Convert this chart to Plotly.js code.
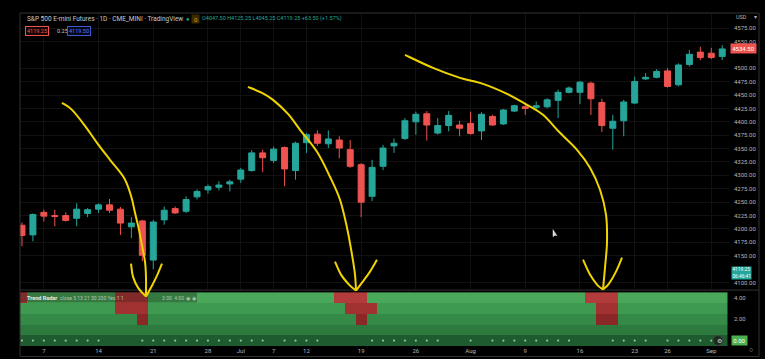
<!DOCTYPE html>
<html>
<head>
<meta charset="utf-8">
<script src="https://cdn.plot.ly/plotly-3.0.1.min.js"></script>
<style>
html,body{margin:0;padding:0;background:#000;}
#chart{width:765px;height:359px;}
</style>
</head>
<body>
<div id="chart"></div>
<script>
// ---------------- DATA ----------------
const dates = [
 '2021-06-03','2021-06-04','2021-06-07','2021-06-08','2021-06-09','2021-06-10','2021-06-11',
 '2021-06-14','2021-06-15','2021-06-16','2021-06-17','2021-06-18',
 '2021-06-21','2021-06-22','2021-06-23','2021-06-24','2021-06-25',
 '2021-06-28','2021-06-29','2021-06-30','2021-07-01','2021-07-02',
 '2021-07-06','2021-07-07','2021-07-08','2021-07-09',
 '2021-07-12','2021-07-13','2021-07-14','2021-07-15','2021-07-16',
 '2021-07-19','2021-07-20','2021-07-21','2021-07-22','2021-07-23',
 '2021-07-26','2021-07-27','2021-07-28','2021-07-29','2021-07-30',
 '2021-08-02','2021-08-03','2021-08-04','2021-08-05','2021-08-06',
 '2021-08-09','2021-08-10','2021-08-11','2021-08-12','2021-08-13',
 '2021-08-16','2021-08-17','2021-08-18','2021-08-19','2021-08-20',
 '2021-08-23','2021-08-24','2021-08-25','2021-08-26','2021-08-27',
 '2021-08-30','2021-08-31','2021-09-01','2021-09-02'
];
const open = [4207,4189,4231,4225,4225,4220,4229,4237,4245,4237,4204,4215,4142,4217,4238,4233,4260,4273,4278,4284,
 4293,4309,4342,4328,4352,4309,4361,4377,4359,4366,4348,4320,4261,4317,4355,4369,4400,4415,4379,4393,
 4394,4397,4383,4410,4396,4420,4428,4427,4428,4440,4455,4455,4472,4436,4388,4402,4435,4480,4483,4495,
 4469,4507,4530,4528,4522];
const high = [4212,4229,4236,4236,4231,4248,4239,4248,4256,4241,4222,4217,4217,4242,4242,4261,4274,4283,4289,4292,
 4314,4347,4348,4354,4354,4363,4379,4384,4384,4373,4366,4323,4329,4357,4369,4407,4419,4420,4407,4420,
 4402,4419,4418,4413,4424,4432,4435,4438,4444,4460,4466,4476,4475,4443,4413,4441,4484,4491,4498,4500,
 4509,4534,4540,4538,4543];
const low = [4168,4177,4214,4205,4214,4205,4222,4230,4230,4189,4183,4140,4125,4208,4228,4230,4255,4266,4272,4270,
 4286,4307,4306,4323,4280,4292,4342,4355,4351,4332,4314,4222,4252,4310,4342,4366,4376,4365,4376,4382,
 4373,4376,4366,4393,4394,4418,4413,4422,4425,4407,4453,4433,4413,4381,4348,4373,4433,4478,4481,4464,
 4466,4503,4515,4517,4515];
const close = [4188,4227,4224,4223.5,4216,4237,4236,4245,4235,4211,4211,4151,4213,4235,4230,4255,4270,4279,4282,4288,
 4310,4342,4333,4349,4312,4360,4376,4360,4368,4351,4317,4250,4315,4351,4360,4402,4414,4394,4393,4412,
 4388,4378,4414,4394,4422,4430,4425,4430,4441,4455,4463,4474,4443,4393,4401,4437,4475,4483,4494,4466,
 4506,4526,4520,4520,4536];

// Trend Radar rows (MA lengths 5,13,21,50,200): bar indices where the row is bearish (red)
const ma5Bear   = [0,9,10,11,29,30,31,52,53,54];
const ma13Bear  = [9,10,11,30,31,32,53,54];
const ma21Bear  = [11,31,53,54];
const ma50Bear  = [];
const ma200Bear = [];
// bottom-row dot markers (bar indices)
const dotIdx = [0,1,2,3,4,5,6,7,11,12,13,14,15,16,17,18,19,20,21,22,24,25,26,27,
 32,33,34,35,36,37,38,41,43,44,45,46,47,48,49,50,54,55,56,57,59,60,61,62,63];

const tickDates = ['2021-06-07','2021-06-14','2021-06-21','2021-06-28','2021-07-01','2021-07-07','2021-07-12',
 '2021-07-19','2021-07-26','2021-08-02','2021-08-09','2021-08-16','2021-08-23','2021-08-26','2021-09-01'];
const tickLabels = ['7','14','21','28','Jul','7','12','19','26','Aug','9','16','23','26','Sep'];
// visible price-scale labels (4125 and 4525 are covered by the price tags in the reference)
const priceTicks=[4100,4150,4175,4200,4225,4250,4275,4300,4325,4350,4375,4400,4425,4450,4475,4500,4550,4575];

// ---------------- LAYOUT HELPERS ----------------
const W=765,H=359,ML=20,MR=36,MT=13,MB=12.5;
const PW=W-ML-MR, PH=H-MT-MB;
function fx(x){return (x-ML)/PW;}
function fy(y){return 1-(y-MT)/PH;}
function smoothPath(pts){
  const p=pts.map(q=>[fx(q[0]),fy(q[1])]);
  let d='M'+p[0][0]+','+p[0][1];
  for(let i=0;i<p.length-1;i++){
    const p0=p[Math.max(0,i-1)],p1=p[i],p2=p[i+1],p3=p[Math.min(p.length-1,i+2)];
    const c1=[p1[0]+(p2[0]-p0[0])/6,p1[1]+(p2[1]-p0[1])/6];
    const c2=[p2[0]-(p3[0]-p1[0])/6,p2[1]-(p3[1]-p1[1])/6];
    d+=' C'+c1[0]+','+c1[1]+' '+c2[0]+','+c2[1]+' '+p2[0]+','+p2[1];
  }
  return d;
}
const YEL='#f0d400';
function yline(pts){return {type:'path',xref:'paper',yref:'paper',path:smoothPath(pts),line:{color:YEL,width:2}};}
function hline(y,x0,x1,c){return {type:'line',xref:'paper',yref:'paper',x0:fx(x0),x1:fx(x1),y0:fy(y),y1:fy(y),line:{color:c||'#2f2f2f',width:1}};}
function vline(x,y0,y1,c){return {type:'line',xref:'paper',yref:'paper',x0:fx(x),x1:fx(x),y0:fy(y0),y1:fy(y1),line:{color:c||'#2f2f2f',width:1}};}
function txt(x,y,t,o){
  o=o||{};
  return Object.assign({xref:'paper',yref:'paper',x:fx(x),y:fy(y),text:t,showarrow:false,xanchor:'left',yanchor:'middle',
    font:{family:'Roboto, Liberation Sans, sans-serif',size:o.size||6,color:o.color||'#b2b5be'}},o.extra||{});
}

// ---------------- HEATMAP Z ----------------
const rows=[ma200Bear,ma50Bear,ma21Bear,ma13Bear,ma5Bear]; // y=0..4
const z=rows.map((bear,r)=>dates.map((d,i)=>bear.includes(i)?5+r:r));
const cols=['#1e5b2f','#2c7a3e','#358a47','#3f9a51','#4aa85b','#8a2626','#8a2626','#8c2727','#a23232','#b23b3b'];
const cscale=cols.map((c,k)=>[k/9,c]);

const traces=[
 {type:'candlestick',x:dates,open:open,high:high,low:low,close:close,xaxis:'x',yaxis:'y',
  increasing:{line:{color:'#26a69a',width:1},fillcolor:'#26a69a'},
  decreasing:{line:{color:'#ef5350',width:1},fillcolor:'#ef5350'},
  whiskerwidth:0,hoverinfo:'skip',showlegend:false},
 {type:'heatmap',x:dates,y:[0,1,2,3,4],z:z,xaxis:'x2',yaxis:'y2',colorscale:cscale,zmin:0,zmax:9,
  showscale:false,hoverinfo:'skip'},
 {type:'scatter',mode:'markers',x:dotIdx.map(i=>dates[i]),y:dotIdx.map(()=>0),xaxis:'x2',yaxis:'y2',
  marker:{size:2.2,color:'rgba(170,215,180,0.85)'},hoverinfo:'skip',showlegend:false}
];

const layout={
 width:W,height:H,margin:{l:ML,r:MR,t:MT,b:MB,pad:0},
 paper_bgcolor:'#000',plot_bgcolor:'#000',showlegend:false,
 font:{family:'Roboto, Liberation Sans, sans-serif',color:'#b2b5be',size:6},
 boxgap:0.22,
 xaxis:{type:'category',domain:[0,1],anchor:'y',range:[-0.18,64.62],rangeslider:{visible:false},
   tickvals:tickDates,ticktext:tickLabels,showticklabels:false,showgrid:true,gridcolor:'#111111',zeroline:false,
   showline:false,ticks:''},
 yaxis:{domain:[fy(289),1],range:[4088.8,4603],side:'right',tickvals:priceTicks,tickformat:'.2f',
   showgrid:true,gridcolor:'#111111',zeroline:false,ticks:'',showline:false,
   tickfont:{size:6,color:'#b2b5be'},ticklabelstandoff:4},
 xaxis2:{type:'category',domain:[0,1],anchor:'y2',matches:'x',tickvals:tickDates,ticktext:tickLabels,
   showgrid:false,zeroline:false,ticks:'',showline:false,tickfont:{size:6,color:'#b2b5be'},ticklabelstandoff:0},
 yaxis2:{domain:[0,fy(292.6)],range:[-0.5,4.5],side:'right',tickvals:[2,4],tickformat:'.2f',
   showgrid:false,zeroline:false,ticks:'',showline:false,tickfont:{size:6,color:'#b2b5be'},ticklabelstandoff:4},
 shapes:[
   hline(13,20,759,'#333'), vline(20,13,357,'#333'), vline(759,13,357,'#333'), hline(290.5,20,759,'#333'),
   hline(357,20,759,'#333'),
   {type:'rect',xref:'paper',yref:'paper',x0:fx(20),x1:fx(197),y0:fy(303),y1:fy(293),fillcolor:'rgba(0,0,0,0.28)',line:{width:0}},
   {type:'circle',xref:'paper',yref:'paper',x0:fx(713),x1:fx(723),y0:fy(346),y1:fy(336),fillcolor:'#1c2a20',line:{color:'#3a4a3e',width:1}},
   yline([[62,103],[72,110],[85,126],[97,143],[110,160],[124,178],[131,196],[135,213],[139,230],[142,246],[145,262],[146,278],[146,297]]),
   yline([[131,264],[133,277],[138,288],[146,297]]),
   yline([[162,264],[157,276],[151,288],[146,297]]),
   yline([[248,87],[262,93],[273,100],[288,114],[300,130],[317,152],[330,177],[340,200],[347,228],[352,255],[355,275],[356,291]]),
   yline([[335,262],[341,275],[349,285],[356,291]]),
   yline([[377,260],[370,272],[362,283],[356,291]]),
   yline([[405,55],[433,68],[460,78],[483,84],[507,94],[527,105],[543,115],[560,133],[577,150],[590,168],[600,190],[606,215],[607,242],[605,268],[603,290]]),
   yline([[583,260],[590,275],[597,285],[603,290]]),
   yline([[622,258],[616,272],[609,284],[603,290]]),
   {type:'path',xref:'paper',yref:'paper',path:'M'+fx(553)+','+fy(230)+' L'+fx(553)+','+fy(237)+' L'+fx(555)+','+fy(235.5)+' L'+fx(557)+','+fy(236)+' Z',
    fillcolor:'#ddd',line:{color:'#ddd',width:0.5}}
 ],
 annotations:[
   txt(25,19,'S&amp;P 500 E-mini Futures · 1D · CME_MINI · TradingView',{color:'#c8c8c8',size:6.5}),
   txt(184,19,'●',{color:'#26a69a',size:6}),
   txt(191,19,' 0 ',{color:'#ff9800',size:6,extra:{bgcolor:'#3a2a00',borderpad:0.5}}),
   txt(200,19,'O4047.50 H4125.25 L4045.25 C4119.25 +63.50 (+1.57%)',{color:'#26a69a',size:5.5}),
   txt(25,31,'4119.25',{color:'#ef5350',size:5.5,extra:{bordercolor:'#ef5350',borderwidth:1,borderpad:1,bgcolor:'#1a0505'}}),
   txt(55,31,'0.25',{color:'#c8c8c8',size:5.5}),
   txt(67,31,'4119.50',{color:'#5b7cf0',size:5.5,extra:{bordercolor:'#3d5bd0',borderwidth:1,borderpad:1,bgcolor:'#05081a'}}),
   txt(734,17,'USD',{color:'#b2b5be',size:5.5}),
   txt(752,17,'▾',{color:'#b2b5be',size:5.5}),
   txt(730,49,'4534.50',{color:'#ffffff',size:6,extra:{bgcolor:'#ef5350',borderpad:1.2}}),
   txt(731,273,'4119.25<br>06:46:41',{color:'#ffffff',size:4.8,extra:{bgcolor:'#26a69a',borderpad:0.4,align:'left'}}),
   txt(731,341,'0.00',{color:'#ffffff',size:6,extra:{bgcolor:'#4caf50',borderpad:1.2}}),
   txt(25,298,'<b>Trend Radar</b>',{color:'#e8e8e8',size:5.5}),
   txt(58,298,'close 5 13 21 50 200 Yes 1 1',{color:'#b8c4b8',size:5}),
   txt(160,298,'3.00  4.00  ◉ ◉',{color:'#a9c9ae',size:5}),
   txt(715,341,'⚙',{color:'#cfd8d0',size:6}),
   txt(747,351,'○',{color:'#b2b5be',size:7})
 ]
};
Plotly.newPlot('chart',traces,layout,{displayModeBar:false,staticPlot:true});
</script>
</body>
</html>
